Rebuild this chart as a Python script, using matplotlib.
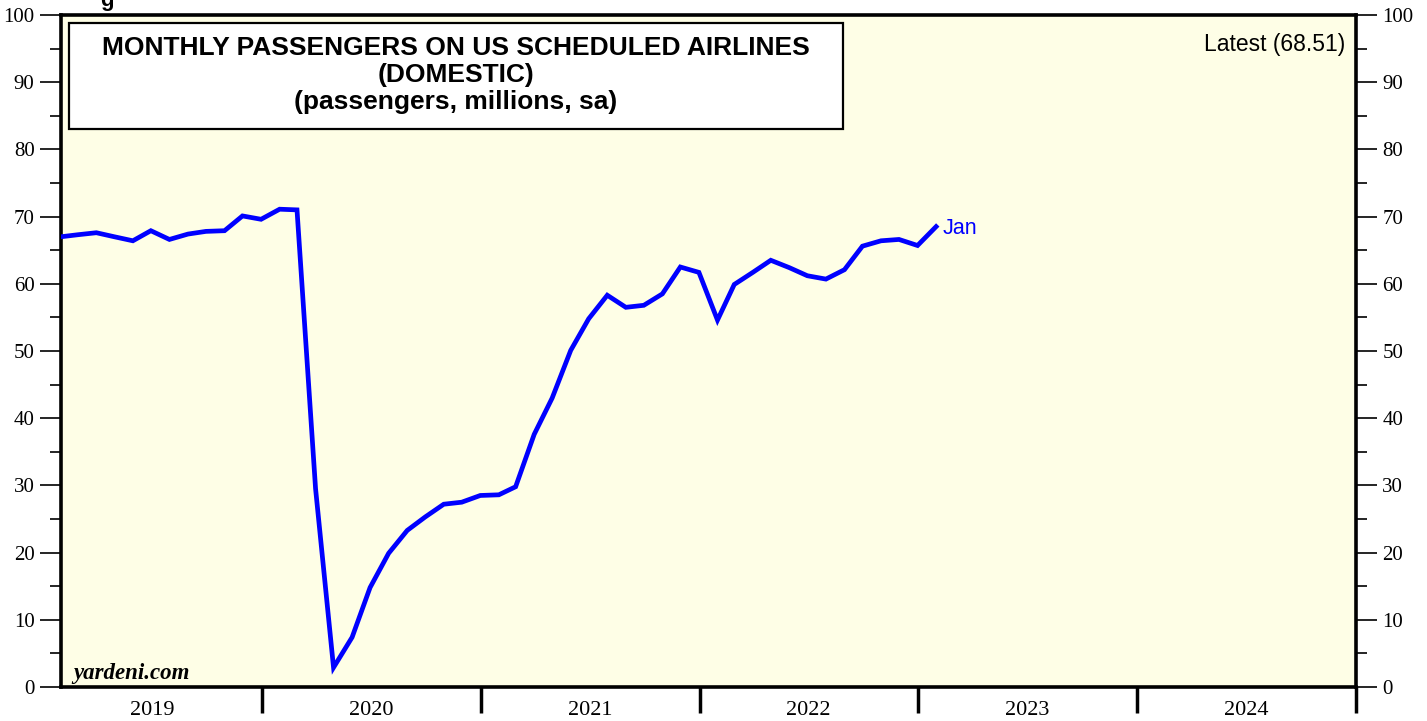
import matplotlib
matplotlib.use("Agg")
import matplotlib.pyplot as plt
from matplotlib.patches import Rectangle
import pandas as pd
import numpy as np

# ---- data ----
months = pd.date_range("2019-01-31", "2023-01-31", freq="ME")
passengers = [
    67.0, 67.3, 67.6, 67.0, 66.4, 67.9, 66.6, 67.4, 67.8, 67.9, 70.1, 69.6,   # 2019
    71.1, 71.0, 29.5, 2.9, 7.4, 14.8, 19.9, 23.3, 25.3, 27.2, 27.5, 28.5,     # 2020
    28.6, 29.8, 37.6, 43.0, 50.1, 54.8, 58.3, 56.5, 56.8, 58.5, 62.5, 61.7,   # 2021
    54.6, 59.9, 61.7, 63.5, 62.4, 61.2, 60.7, 62.1, 65.6, 66.4, 66.6, 65.7,   # 2022
    68.51,                                                                     # 2023
]
years = [2019, 2020, 2021, 2022, 2023, 2024]
yticks = list(range(0, 101, 10))
title_lines = ["MONTHLY PASSENGERS ON US SCHEDULED AIRLINES",
               "(DOMESTIC)",
               "(passengers, millions, sa)"]
latest_label = "Latest (68.51)"
end_label = "Jan"

# ---- figure ----
W, H = 1427, 721
fig = plt.figure(figsize=(W / 100, H / 100), dpi=100)
ax_l, ax_r, ax_t, ax_b = 61, 1356, 15, 687
ax = fig.add_axes([ax_l / W, (H - ax_b) / H, (ax_r - ax_l) / W, (ax_b - ax_t) / H])
ax.set_facecolor("#FEFEE6")

ax.plot(months, passengers, color="#0000FF", lw=3.4, solid_joinstyle="miter", zorder=3)

ax.set_xlim(pd.Timestamp("2019-01-31"), pd.Timestamp("2025-01-01"))
ax.set_ylim(0, 100)

serif = "Liberation Serif"
sans = "Liberation Sans"

# y axis ticks both sides
ax.set_yticks(yticks)
ax.set_yticks(np.arange(5, 100, 10), minor=True)
ax.tick_params(axis="y", which="major", direction="out", length=15, width=1.2,
               left=True, right=True, labelleft=True, labelright=True,
               labelsize=15, pad=4)
ax.tick_params(axis="y", which="minor", direction="out", length=8, width=1.2,
               left=True, right=True)
for lab in ax.get_yticklabels():
    lab.set_fontfamily(serif)

# x axis: year boundary ticks (major, no labels), year labels at mid-year (minor, no tick line)
ax.set_xticks([pd.Timestamp(f"{y}-01-01") for y in years[1:]] + [pd.Timestamp("2025-01-01")])
ax.set_xticklabels([])
ax.set_xticks([pd.Timestamp(f"{y}-07-02") for y in years], minor=True)
ax.set_xticklabels([str(y) for y in years], minor=True, fontfamily=serif, fontsize=16)
ax.tick_params(axis="x", which="major", direction="out", length=19, width=2.5)
ax.tick_params(axis="x", which="minor", length=0, pad=10)

for s in ax.spines.values():
    s.set_linewidth(2.6)
    s.set_color("black")

# title box
bx0 = (69 - ax_l) / (ax_r - ax_l)
bx1 = (843 - ax_l) / (ax_r - ax_l)
by1 = (ax_b - 23) / (ax_b - ax_t)
by0 = (ax_b - 129) / (ax_b - ax_t)
ax.add_patch(Rectangle((bx0, by0), bx1 - bx0, by1 - by0, transform=ax.transAxes,
                       facecolor="white", edgecolor="black", lw=1.6, zorder=4))
cx = (bx0 + bx1) / 2
for line, ypx in zip(title_lines, [48, 75, 102]):
    ax.text(cx, (ax_b - ypx) / (ax_b - ax_t), line, transform=ax.transAxes,
            ha="center", va="center", fontfamily=sans, fontweight="bold",
            fontsize=19, zorder=5)

# latest label
ax.text((1345 - ax_l) / (ax_r - ax_l), (ax_b - 45) / (ax_b - ax_t), latest_label,
        transform=ax.transAxes, ha="right", va="center", fontfamily=sans, fontsize=16.5)

# end label
ax.annotate(end_label, xy=(months[-1], passengers[-1]), xytext=(5, -1),
            textcoords="offset points", ha="left", va="center",
            color="#0000FF", fontfamily=sans, fontsize=15.5)

# watermark
ax.text((73 - ax_l) / (ax_r - ax_l), (ax_b - 673) / (ax_b - ax_t), "yardeni.com",
        transform=ax.transAxes, ha="left", va="center", fontfamily=serif,
        fontweight="bold", fontstyle="italic", fontsize=16.5)

# clipped heading remnant at top-left (as in the reference)
fig.text(100 / W, (H - 6) / H, "g", ha="left", va="baseline",
         fontfamily=sans, fontweight="bold", fontsize=16)

fig.savefig("out.png", dpi=100, facecolor="white")
